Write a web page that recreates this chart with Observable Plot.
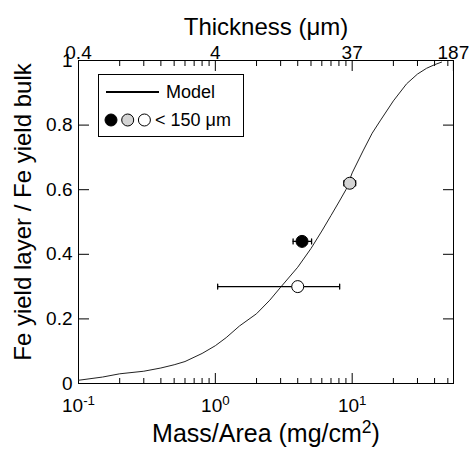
<!DOCTYPE html>
<html><head><meta charset="utf-8">
<script src="https://cdn.jsdelivr.net/npm/d3@7"></script>
<script src="https://cdn.jsdelivr.net/npm/@observablehq/plot@0.6"></script>
<style>body{margin:0;background:#fff} svg{font-family:"Liberation Sans",Arial,sans-serif}</style>
</head><body><div id="chart"></div>
<script>
const modelMass  = [0.1, 0.15, 0.2, 0.3, 0.4, 0.5, 0.6, 0.8, 1.0, 1.2, 1.5, 2.0, 2.5, 3.0, 4.0, 5.0, 6.0, 7.0, 8.0, 9.0, 10, 12, 14, 16, 20, 25, 30, 35, 40, 45];
const modelYield = [0.010, 0.020, 0.030, 0.038, 0.048, 0.058, 0.068, 0.093, 0.117, 0.142, 0.178, 0.216, 0.258, 0.298, 0.360, 0.418, 0.472, 0.520, 0.562, 0.600, 0.652, 0.720, 0.775, 0.813, 0.875, 0.928, 0.958, 0.976, 0.987, 0.995];

const sampleMass  = [4.3, 9.6, 4.0];
const sampleYield = [0.44, 0.62, 0.30];
const sampleLow   = [3.7, 8.7, 1.04];
const sampleHigh  = [5.05, 10.6, 8.1];
const sampleFill  = ["black", "#d4d4d4", "white"];

const xMajor = [0.1, 1, 10];
const xMajorLabels = ["10^{-1}", "10^{0}", "10^{1}"];
const xMinor = [0.2,0.3,0.4,0.5,0.6,0.7,0.8,0.9, 2,3,4,5,6,7,8,9, 20,30,40,50];
const topMajor = [0.1, 1, 10, 54.9];
const topLabels = ["0.4", "4", "37", "187"];
const yTicks = [0, 0.2, 0.4, 0.6, 0.8, 1];
const yTickLabels = ["0", "0.2", "0.4", "0.6", "0.8", "1"];

const xTitle = "Mass/Area (mg/cm^{2})";
const topTitle = "Thickness (\u03bcm)";
const yTitle = "Fe yield layer / Fe yield bulk";
const legendModel = "Model";
const legendSamples = "< 150 \u03bcm";

const model = modelMass.map((m, i) => ({m, y: modelYield[i]}));
const samples = sampleMass.map((m, i) => ({m, y: sampleYield[i], lo: sampleLow[i], hi: sampleHigh[i], fill: sampleFill[i]}));
const topTickData = topMajor.map((m, i) => ({m, label: topLabels[i]}));

const capShape = {draw(ctx, l) { ctx.moveTo(0, 0); ctx.lineTo(0, -l); }};
const noText = () => "";

const chart = Plot.plot({
  width: 469, height: 449,
  marginLeft: 78, marginRight: 16, marginTop: 60, marginBottom: 66,
  style: {fontFamily: "Liberation Sans, Arial, sans-serif", background: "white", color: "black", overflow: "visible"},
  x: {type: "log", domain: [0.1, 55]},
  y: {domain: [0, 1]},
  marks: [
    Plot.axisX({anchor: "bottom", ticks: xMajor, tickSize: -10, tickFormat: noText, label: null}),
    Plot.axisX({anchor: "bottom", ticks: xMinor, tickSize: -5, tickFormat: noText, label: null}),
    Plot.axisX({anchor: "top", ticks: topMajor, tickSize: -10, tickFormat: noText, label: null}),
    Plot.axisX({anchor: "top", ticks: xMinor, tickSize: -5, tickFormat: noText, label: null}),
    Plot.axisY({anchor: "left", ticks: yTicks, tickSize: -11, tickFormat: noText, label: null}),
    Plot.axisY({anchor: "right", ticks: yTicks, tickSize: -11, tickFormat: noText, label: null}),
    Plot.axisX({anchor: "bottom", ticks: xMajor, tickSize: 0, tickPadding: 15, fontSize: 19,
      tickFormat: d => xMajorLabels[xMajor.indexOf(d)], label: null}),
    Plot.text(topTickData, {x: "m", text: "label", frameAnchor: "top", dy: -15, fontSize: 19}),
    Plot.axisY({anchor: "left", ticks: yTicks, tickSize: 0, tickPadding: 6, fontSize: 19,
      tickFormat: d => yTickLabels[yTicks.indexOf(d)], label: null}),
    Plot.frame({stroke: "black", strokeWidth: 1}),
    Plot.line(model, {x: "m", y: "y", stroke: "#222", strokeWidth: 1}),
    Plot.ruleY(samples, {y: "y", x1: "lo", x2: "hi", stroke: "black", strokeWidth: 1.3}),
    Plot.vector(samples, {x: "lo", y: "y", length: 5, rotate: 0, anchor: "middle", shape: capShape, stroke: "black", strokeWidth: 1.3}),
    Plot.vector(samples, {x: "hi", y: "y", length: 5, rotate: 0, anchor: "middle", shape: capShape, stroke: "black", strokeWidth: 1.3}),
    Plot.dot(samples, {x: "m", y: "y", r: 6, fill: "fill", stroke: "black", strokeWidth: 1}),
    Plot.text([xTitle], {text: d => d, frameAnchor: "bottom", dy: 58, fontSize: 25}),
    Plot.text([topTitle], {text: d => d, frameAnchor: "top", dy: -43, fontSize: 24}),
    Plot.text([yTitle], {text: d => d, frameAnchor: "left", textAnchor: "middle", rotate: -90, dx: -55, dy: -10, fontSize: 24})
  ]
});

// render superscripts written as a^{b}
d3.select(chart).selectAll("text").each(function() {
  const t = this.textContent;
  const m = t.match(/^(.*)\^\{(.+?)\}(.*)$/);
  if (!m) return;
  const sel = d3.select(this);
  sel.text(null);
  sel.append("tspan").text(m[1]);
  sel.append("tspan").attr("dy", "-0.5em").attr("font-size", "0.7em").text(m[2]);
  if (m[3]) sel.append("tspan").attr("dy", "0.35em").text(m[3]);
});

// legend box
const lg = d3.select(chart).append("g").attr("font-size", 18).attr("text-anchor", "start");
lg.append("rect").attr("x", 98.5).attr("y", 74.5).attr("width", 145).attr("height", 62)
  .attr("fill", "white").attr("stroke", "black");
lg.append("line").attr("x1", 106).attr("x2", 159).attr("y1", 92).attr("y2", 92)
  .attr("stroke", "black").attr("stroke-width", 2);
lg.append("text").attr("x", 166).attr("y", 92).attr("dy", "0.35em").text(legendModel);
sampleFill.forEach((f, i) => {
  lg.append("circle").attr("cx", 111 + i * 16.7).attr("cy", 120).attr("r", 6)
    .attr("fill", f).attr("stroke", "black");
});
lg.append("text").attr("x", 155).attr("y", 120).attr("dy", "0.35em").text(legendSamples);

document.getElementById("chart").appendChild(chart);
</script>
</body></html>
